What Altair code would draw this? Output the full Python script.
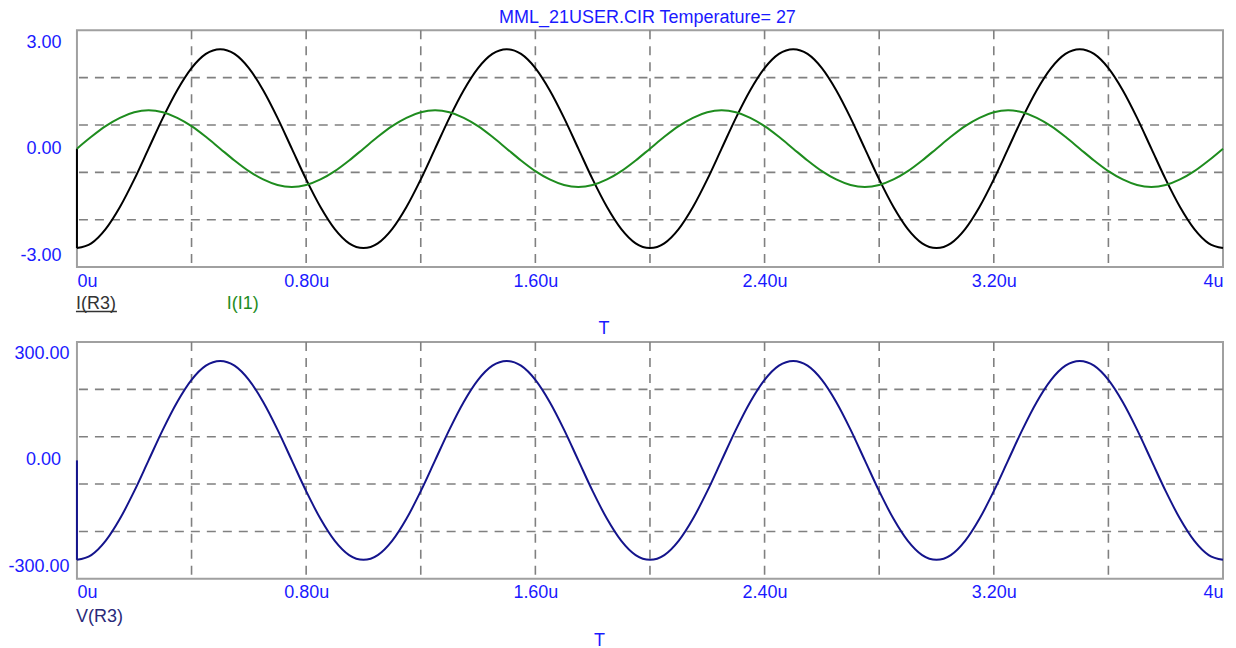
import altair as alt
import pandas as pd

# ---------------- data ----------------
time_us = [0.00, 0.05, 0.10, 0.15, 0.20, 0.25, 0.30, 0.35, 0.40, 0.45,
           0.50, 0.55, 0.60, 0.65, 0.70, 0.75, 0.80, 0.85, 0.90, 0.95,
           1.00, 1.05, 1.10, 1.15, 1.20, 1.25, 1.30, 1.35, 1.40, 1.45,
           1.50, 1.55, 1.60, 1.65, 1.70, 1.75, 1.80, 1.85, 1.90, 1.95,
           2.00, 2.05, 2.10, 2.15, 2.20, 2.25, 2.30, 2.35, 2.40, 2.45,
           2.50, 2.55, 2.60, 2.65, 2.70, 2.75, 2.80, 2.85, 2.90, 2.95,
           3.00, 3.05, 3.10, 3.15, 3.20, 3.25, 3.30, 3.35, 3.40, 3.45,
           3.50, 3.55, 3.60, 3.65, 3.70, 3.75, 3.80, 3.85, 3.90, 3.95,
           4.00]

i_r3 = [-2.52, -2.40, -2.04, -1.48, -0.78, 0.00, 0.78, 1.48, 2.04, 2.40,
        2.52, 2.40, 2.04, 1.48, 0.78, 0.00, -0.78, -1.48, -2.04, -2.40,
        -2.52, -2.40, -2.04, -1.48, -0.78, 0.00, 0.78, 1.48, 2.04, 2.40,
        2.52, 2.40, 2.04, 1.48, 0.78, 0.00, -0.78, -1.48, -2.04, -2.40,
        -2.52, -2.40, -2.04, -1.48, -0.78, 0.00, 0.78, 1.48, 2.04, 2.40,
        2.52, 2.40, 2.04, 1.48, 0.78, 0.00, -0.78, -1.48, -2.04, -2.40,
        -2.52, -2.40, -2.04, -1.48, -0.78, 0.00, 0.78, 1.48, 2.04, 2.40,
        2.52, 2.40, 2.04, 1.48, 0.78, 0.00, -0.78, -1.48, -2.04, -2.40,
        -2.52]

i_i1 = [0.00, 0.30, 0.57, 0.78, 0.92, 0.97, 0.92, 0.78, 0.57, 0.30,
        0.00, -0.30, -0.57, -0.78, -0.92, -0.97, -0.92, -0.78, -0.57, -0.30,
        0.00, 0.30, 0.57, 0.78, 0.92, 0.97, 0.92, 0.78, 0.57, 0.30,
        0.00, -0.30, -0.57, -0.78, -0.92, -0.97, -0.92, -0.78, -0.57, -0.30,
        0.00, 0.30, 0.57, 0.78, 0.92, 0.97, 0.92, 0.78, 0.57, 0.30,
        0.00, -0.30, -0.57, -0.78, -0.92, -0.97, -0.92, -0.78, -0.57, -0.30,
        0.00, 0.30, 0.57, 0.78, 0.92, 0.97, 0.92, 0.78, 0.57, 0.30,
        0.00, -0.30, -0.57, -0.78, -0.92, -0.97, -0.92, -0.78, -0.57, -0.30,
        0.00]

v_r3 = [-252, -240, -204, -148, -78, 0, 78, 148, 204, 240,
        252, 240, 204, 148, 78, 0, -78, -148, -204, -240,
        -252, -240, -204, -148, -78, 0, 78, 148, 204, 240,
        252, 240, 204, 148, 78, 0, -78, -148, -204, -240,
        -252, -240, -204, -148, -78, 0, 78, 148, 204, 240,
        252, 240, 204, 148, 78, 0, -78, -148, -204, -240,
        -252, -240, -204, -148, -78, 0, 78, 148, 204, 240,
        252, 240, 204, 148, 78, 0, -78, -148, -204, -240,
        -252]

# initial jump from the operating point at t = 0
start_time = [0.0]
i_r3_start = [0.0]
i_r3_first = [-2.52]
v_r3_start = [0.0]
v_r3_first = [-252.0]

x_grid = [0.4, 0.8, 1.2, 1.6, 2.0, 2.4, 2.8, 3.2, 3.6]
y_grid_top = [-1.8, -0.6, 0.6, 1.8]
y_grid_bottom = [-180, -60, 60, 180]

x_ticks = [0, 0.8, 1.6, 2.4, 3.2, 4]
x_tick_labels = ["0u", "0.80u", "1.60u", "2.40u", "3.20u", "4u"]
y_ticks_top = [-3, 0, 3]
y_tick_labels_top = ["-3.00", "0.00", "3.00"]
y_ticks_bottom = [-300, 300]
y_tick_labels_bottom = ["-300.00", "300.00"]
y_mid_bottom = [0]
y_mid_label_bottom = ["0.00"]

title_text = "MML_21USER.CIR Temperature= 27"
legend_top = ["I(R3)", "I(I1)"]
legend_bottom = ["V(R3)"]
x_title = ["T"]

# ---------------- styling ----------------
FONT = "Liberation Sans"
FS = 18
BLUE_TXT = "#1a1aff"
GREEN = "#1e8c1e"
BLACK = "#000000"
NAVY = "#14148c"
GRID = "#808080"
BORDER = "#a0a0a0"
W, H = 1147, 237
DASH = [9, 7]


def label_expr(values, labels):
    vals = ",".join(repr(v) for v in values)
    labs = ",".join("'" + s + "'" for s in labels)
    return f"[{labs}][indexof([{vals}], datum.value)]"


x_scale = alt.Scale(domain=[0, 4], nice=False, zero=False)
x_axis = alt.Axis(values=x_ticks, labelExpr=label_expr(x_ticks, x_tick_labels),
                  labelFlush=True, labelPadding=5, grid=False, domain=False,
                  ticks=False, tickSize=0, title=None, labelFont=FONT,
                  labelFontSize=FS, labelColor=BLUE_TXT)


def y_axis(values, labels, pad):
    return alt.Axis(values=values, labelExpr=label_expr(values, labels),
                    labelFlush=True, labelFlushOffset=-3, labelPadding=pad,
                    grid=False, domain=False, ticks=False, tickSize=0,
                    title=None, labelFont=FONT, labelFontSize=FS,
                    labelColor=BLUE_TXT)


def text_layer(label, color, x, y, align="left"):
    df = pd.DataFrame({"label": [label]})
    return alt.Chart(df).mark_text(
        align=align, baseline="alphabetic", font=FONT, fontSize=FS, color=color
    ).encode(text="label:N", x=alt.value(x), y=alt.value(y))


def panel(series, ygrid, ydomain, yaxis, start_df, legend_layers, t_x,
          title=None, mid_label=None):
    y_scale = alt.Scale(domain=ydomain, nice=False, zero=False)
    X = lambda f: alt.X(f, scale=x_scale, axis=x_axis)
    Y = lambda f: alt.Y(f, scale=y_scale, axis=yaxis)

    gx = alt.Chart(pd.DataFrame({"g": x_grid})).mark_rule(
        color=GRID, strokeWidth=1.6, strokeDash=DASH).encode(x=X("g:Q"))
    gy = alt.Chart(pd.DataFrame({"g": ygrid})).mark_rule(
        color=GRID, strokeWidth=1.6, strokeDash=DASH).encode(y=Y("g:Q"))

    layers = [gx, gy]
    first = True
    for vals, color in series:
        df = pd.DataFrame({"t": time_us, "v": vals})
        layers.append(alt.Chart(df).mark_line(
            color=color, strokeWidth=2, interpolate="monotone"
        ).encode(x=X("t:Q"), y=Y("v:Q")))
        if first:
            layers.append(alt.Chart(start_df).mark_rule(color=color, strokeWidth=2)
                          .encode(x=X("t:Q"), y=Y("y0:Q"), y2="y1:Q"))
            first = False
    if mid_label is not None:
        vals, labs = mid_label
        layers.append(alt.Chart(pd.DataFrame({"v": vals, "label": labs})).mark_text(
            align="right", baseline="middle", font=FONT, fontSize=FS, color=BLUE_TXT
        ).encode(text="label:N", x=alt.value(-16), y=Y("v:Q")))
    layers += legend_layers
    layers.append(text_layer(x_title[0], BLUE_TXT, t_x, 304, align="center"))
    props = dict(width=W, height=H)
    if title is not None:
        props["title"] = title
    return alt.layer(*layers).properties(**props)


top_start = pd.DataFrame({"t": start_time, "y0": i_r3_start, "y1": i_r3_first})
bot_start = pd.DataFrame({"t": start_time, "y0": v_r3_start, "y1": v_r3_first})

underline = alt.Chart(pd.DataFrame({"label": [legend_top[0]]})).mark_rule(
    color="#333333", strokeWidth=1.5
).encode(x=alt.value(-1), x2=alt.value(40), y=alt.value(281.5))

top_legend = [
    text_layer(legend_top[0], "#333333", -1, 278.7),
    underline,
    text_layer(legend_top[1], GREEN, 150, 278.7),
]
bottom_legend = [text_layer(legend_bottom[0], "#2a2a7a", -1, 280.0)]

title = alt.Title(title_text, font=FONT, fontSize=FS, fontWeight="normal",
                  color=BLUE_TXT, offset=2, frame="group", dx=-2.5)

top = panel([(i_r3, BLACK), (i_i1, GREEN)], y_grid_top, [-3, 3],
            y_axis(y_ticks_top, y_tick_labels_top, 16), top_start,
            top_legend, 527.5, title=title)
bottom = panel([(v_r3, NAVY)], y_grid_bottom, [-300, 300],
               y_axis(y_ticks_bottom, y_tick_labels_bottom, 8), bot_start,
               bottom_legend, 523, mid_label=(y_mid_bottom, y_mid_label_bottom))

chart = alt.vconcat(top, bottom, spacing=75, bounds="flush").properties(
    padding={"left": -2, "top": 0, "right": 0, "bottom": 0},
    background="white",
).configure_view(stroke=BORDER, strokeWidth=2)

chart.save("out.html", embed_options={"renderer": "svg", "actions": False})
